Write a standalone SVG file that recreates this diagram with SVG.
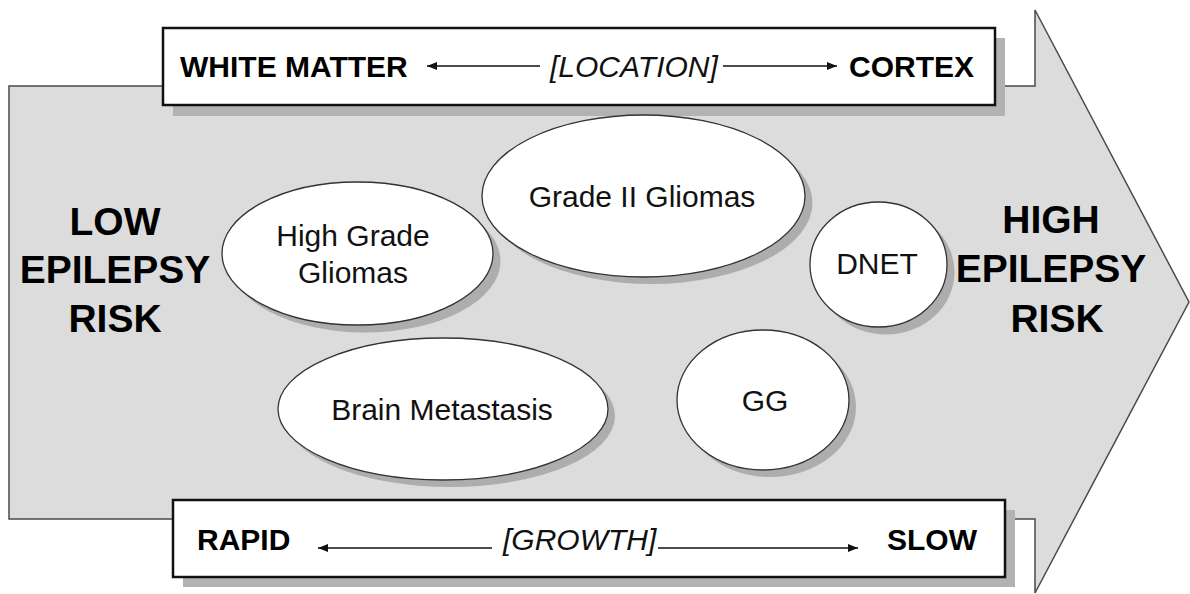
<svg xmlns="http://www.w3.org/2000/svg" width="1190" height="594" viewBox="0 0 1190 594">
  <style>
    .bg { fill: #ffffff; }
    .arrowbody { fill: #dcdcdc; stroke: #4a4a4a; stroke-width: 1.5; }
    .box { fill: #ffffff; stroke: #111111; stroke-width: 2.5; }
    .boxshadow { fill: #b2b2b2; }
    .node { fill: #ffffff; stroke: #333333; stroke-width: 1.3; }
    .nodeshadow { fill: #adadad; }
    .label { font-family: "Liberation Sans", Arial, sans-serif; font-size: 30px; fill: #111111; text-anchor: middle; }
    .bold { font-family: "Liberation Sans", Arial, sans-serif; font-size: 30px; font-weight: bold; fill: #000000; }
    .ital { font-family: "Liberation Sans", Arial, sans-serif; font-size: 30px; font-style: italic; fill: #111111; }
    .risk { font-family: "Liberation Sans", Arial, sans-serif; font-size: 39px; font-weight: bold; fill: #000000; text-anchor: middle; }
    .conn { stroke: #111111; stroke-width: 1.4; fill: none; marker-end: url(#ah); }
  </style>
  <defs>
    <marker id="ah" viewBox="0 0 10 8" refX="10" refY="4" markerWidth="10" markerHeight="8" markerUnits="userSpaceOnUse" orient="auto">
      <path d="M0,0 L10,4 L0,8 Z" fill="#111111"/>
    </marker>
  </defs>
  <rect class="bg" x="0" y="0" width="1190" height="594"/>

  <g id="big-arrow">
    <polygon class="arrowbody" points="9,86 1035,86 1035,10 1189,302 1035,593 1035,519 9,519"/>
  </g>

  <g id="location-box">
    <rect class="boxshadow" x="173" y="38" width="832" height="78"/>
    <rect class="box" x="163" y="28" width="832" height="77"/>
    <text class="bold" x="180" y="77">WHITE MATTER</text>
    <text class="ital" x="550" y="77">[LOCATION]</text>
    <text class="bold" x="849" y="77">CORTEX</text>
  </g>

  <g id="growth-box">
    <rect class="boxshadow" x="183" y="510" width="832" height="77"/>
    <rect class="box" x="173" y="500" width="832" height="77"/>
    <text class="bold" x="197" y="550">RAPID</text>
    <text class="ital" x="503" y="550">[GROWTH]</text>
    <text class="bold" x="887" y="550">SLOW</text>
  </g>

  <g id="connectors">
    <line class="conn" x1="540" y1="66" x2="427" y2="66"/>
    <line class="conn" x1="723" y1="66" x2="837" y2="66"/>
    <line class="conn" x1="492" y1="548" x2="318" y2="548"/>
    <line class="conn" x1="658" y1="548" x2="858" y2="548"/>
  </g>

  <g id="low-risk">
    <text class="risk" x="115" y="235">LOW</text>
    <text class="risk" x="115" y="283">EPILEPSY</text>
    <text class="risk" x="115" y="332">RISK</text>
  </g>

  <g id="high-risk">
    <text class="risk" x="1051" y="233">HIGH</text>
    <text class="risk" x="1051" y="282">EPILEPSY</text>
    <text class="risk" x="1057" y="332">RISK</text>
  </g>

  <g id="high-grade-gliomas">
    <ellipse class="nodeshadow" cx="365" cy="261" rx="135.5" ry="71.5"/>
    <ellipse class="node" cx="357.5" cy="253.5" rx="135.5" ry="71.5"/>
    <text class="label" x="353" y="246">High Grade</text>
    <text class="label" x="353" y="283">Gliomas</text>
  </g>

  <g id="grade-ii-gliomas">
    <ellipse class="nodeshadow" cx="651" cy="203" rx="161.5" ry="81"/>
    <ellipse class="node" cx="643.5" cy="196" rx="161.5" ry="81"/>
    <text class="label" x="642" y="207">Grade II Gliomas</text>
  </g>

  <g id="dnet">
    <ellipse class="nodeshadow" cx="886" cy="272" rx="68.5" ry="62.5"/>
    <ellipse class="node" cx="878.5" cy="264.5" rx="68.5" ry="62.5"/>
    <text class="label" x="877" y="274">DNET</text>
  </g>

  <g id="brain-metastasis">
    <ellipse class="nodeshadow" cx="450" cy="416" rx="165" ry="71"/>
    <ellipse class="node" cx="443" cy="409" rx="165" ry="71"/>
    <text class="label" x="442" y="420">Brain Metastasis</text>
  </g>

  <g id="gg">
    <ellipse class="nodeshadow" cx="770" cy="407" rx="86" ry="70"/>
    <ellipse class="node" cx="763" cy="400" rx="86" ry="70"/>
    <text class="label" x="765" y="411">GG</text>
  </g>
</svg>
